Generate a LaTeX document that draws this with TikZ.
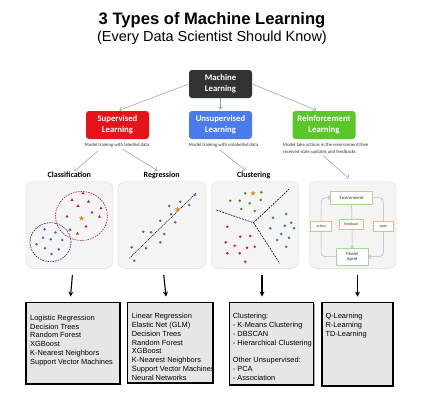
\documentclass[tikz,border=0pt]{standalone}
\usepackage{fontspec}
\setmainfont{Liberation Sans}
\newfontfamily\calfont{Carlito}
\usetikzlibrary{arrows.meta,shapes.geometric,shadows}
\definecolor{mldark}{HTML}{333333}
\definecolor{supred}{HTML}{E5141B}
\definecolor{unsblue}{HTML}{4A7BEA}
\definecolor{reigreen}{HTML}{5BC62A}
\definecolor{arrgray}{HTML}{9A9A9A}
\definecolor{panelfill}{HTML}{F4F4F4}
\definecolor{panelline}{HTML}{DCDCDC}
\definecolor{boxfill}{HTML}{E6E6E6}
\definecolor{ptblue}{HTML}{4466CC}
\definecolor{ptred}{HTML}{CC2222}
\definecolor{ptgreen}{HTML}{4A8A2A}
\definecolor{trired}{HTML}{A82233}
\definecolor{starorange}{HTML}{E08A30}
\definecolor{ellred}{HTML}{B02030}
\definecolor{ellblue}{HTML}{1E1E6E}
\definecolor{envgreen}{HTML}{A6DA8E}
\definecolor{actorange}{HTML}{F0B48C}
\definecolor{loopgray}{HTML}{B4B4B4}
\begin{document}
\begin{tikzpicture}[x=1pt,y=-1pt,
  catbox/.style={rectangle, rounded corners=3pt, minimum width=63pt, minimum height=28pt, inner sep=0pt, text=white, align=center, font=\calfont\bfseries\fontsize{8.7}{11}\selectfont},
  capt/.style={inner sep=0pt, text=mldark, font=\calfont\fontsize{4.8}{7}\selectfont},
  garr/.style={draw=arrgray, line width=0.5pt, -{Straight Barb[length=2.5pt,width=5pt]}},
  plabel/.style={inner sep=0pt, font=\calfont\bfseries\fontsize{8}{9}\selectfont},
  panel/.style={rectangle, rounded corners=7pt, draw=panelline, fill=panelfill, minimum height=86.6pt, inner sep=0pt},
  listbox/.style={rectangle, draw=black, line width=1.3pt, fill=boxfill, inner sep=0pt, drop shadow={shadow xshift=1.2pt, shadow yshift=-1.2pt, fill=black, opacity=0.35}},
  listtext/.style={anchor=north west, inner sep=0pt, align=left, font=\fontsize{7.4}{8.85}\selectfont},
  bigarr/.style={line width=1.1pt, -{Stealth[length=5pt,width=5pt]}},
  envbox/.style={rectangle, draw=envgreen, line width=0.7pt, fill=white, inner sep=0pt, align=center, text=mldark, font=\calfont\fontsize{4.6}{5.4}\selectfont},
  actbox/.style={rectangle, draw=actorange, line width=0.7pt, fill=white, inner sep=0pt, text=mldark, font=\calfont\fontsize{3.8}{4.5}\selectfont},
  loopline/.style={draw=loopgray, line width=0.5pt, rounded corners=4pt},
  looparr/.style={loopline, -{Straight Barb[length=2pt,width=4pt]}},
  tri/.style={regular polygon, regular polygon sides=3, fill=trired, minimum size=3.6pt, inner sep=0pt},
  starn/.style={star, star points=5, star point ratio=2.3, fill=starorange, minimum size=5.5pt, inner sep=0pt}
]
\useasboundingbox (0,0) rectangle (424,400);
\fill[white] (0,0) rectangle (424,400);

% titles
\node[inner sep=0pt, font=\bfseries\fontsize{16.6}{20}\selectfont] (title) at (212,20) {3 Types of Machine Learning};
\node[inner sep=0pt, font=\fontsize{14.5}{17}\selectfont] (subtitle) at (212,37.5) {(Every Data Scientist Should Know)};

% category boxes
\node[catbox, fill=mldark] (ml) at (220.5,84) {Machine\\Learning};
\node[catbox, fill=supred] (sup) at (117.5,125) {Supervised\\Learning};
\node[catbox, fill=unsblue] (uns) at (220.5,125) {Unsupervised\\Learning};
\node[catbox, fill=reigreen] (rei) at (324,125) {Reinforcement\\Learning};

\draw[garr, shorten <=1pt, shorten >=2pt] (ml.west) -- (sup.north);
\draw[garr, shorten >=1.5pt] (ml.south) -- (uns.north);
\draw[garr, shorten <=1pt, shorten >=2pt] (ml.east) -- ([xshift=-6pt]rei.north);

% captions
\node[capt] (supcap) at (117,145.3) {Model training with labelled data};
\node[capt] (unscap) at (223.5,145) {Model training with unlabelled data};
\node[capt, anchor=north west, align=left] (reicap) at (282.7,142.8) {Model take actions in the environment then\\received state updates and feedbacks};

% panel labels
\node[plabel] (clslbl) at (69.3,175) {Classification};
\node[plabel] (reglbl) at (161.7,175) {Regression};
\node[plabel] (clulbl) at (253.7,175) {Clustering};

% panels
\node[panel, minimum width=87pt] (p1) at (69.5,225) {};
\node[panel, minimum width=88pt] (p2) at (162,225) {};
\node[panel, minimum width=88pt] (p3) at (255,225) {};
\node[panel, minimum width=87pt] (p4) at (352.5,225) {};

\draw[garr, shorten <=5pt, shorten >=1.5pt] ([xshift=-15pt]supcap.south) -- ([xshift=4pt]clslbl.north);
\draw[garr, shorten <=3pt, shorten >=1.5pt] ([xshift=3pt]supcap.south) -- ([xshift=-3pt]reglbl.north);
\draw[garr, shorten <=4pt, shorten >=1.5pt] ([xshift=-7pt]unscap.south) -- ([xshift=-7pt]clulbl.north);
\draw[garr, shorten <=2pt, shorten >=5pt] ([xshift=-4pt]reicap.south) -- (p4.north);

% ---- classification content
\draw[ellred, line width=0.6pt, dash pattern=on 1.6pt off 1pt] (81.5,216) ellipse [x radius=26pt, y radius=24.5pt];
\draw[ellblue, line width=0.6pt, dash pattern=on 1.6pt off 1pt] (50.5,242.2) ellipse [x radius=20.5pt, y radius=19.5pt];
\foreach \px/\py in {83/193.3,72/200,88.5/201.7,78/206,101/208.3,92/212.5,67/216.5,99.5/216.8,86/226.5,70/229.8,77.5/233.8}
  \node[tri] at (\px,\py) {};
\foreach \px/\py in {44.5/229.3,55.5/232.5,43/237.7,50.7/239.2,62.2/240,36.5/244.3,45/248.3,58.7/249.3,51.5/254}
  \fill[ptblue] (\px,\py) circle[radius=1.4pt];
\node[starn] at (81.5,218.3) {};

% ---- regression content
\draw[black, line width=0.5pt, dash pattern=on 1.2pt off 0.8pt] (129.3,258.3) -- (196,193.3);
\foreach \px/\py in {194.7/195,180.3/201.7,189.3/205,169.3/206,171/214.3,175.3/222.3,160.3/220.7,143.3/231.7,151/232.3,164.3/234,160.3/242.3,131.7/247.3,146/248.3,134.3/260.7}
  \fill[ptblue] (\px,\py) circle[radius=1.4pt];
\node[starn] at (177.7,209.3) {};

% ---- clustering content
\draw[black, line width=0.6pt, dash pattern=on 2pt off 1pt] (216.3,210) -- (253.5,222.7) -- (289,189.3);
\draw[black, line width=0.6pt, dash pattern=on 2pt off 1pt] (253.5,222.7) -- (279.7,263.3);
\foreach \px/\py in {245.3/193.3,261.3/192.3,230.3/200.7,239.7/200.7,249.7/203.3,260.7/200,241.3/209,254.7/211}
  \fill[ptgreen] (\px,\py) circle[radius=1.4pt];
\foreach \px/\py in {273/217.7,286.3/214,270.3/228.3,284.7/225.7,291.3/222.7,294/228.3,281.3/234,289/237.7,277.3/240,286.3/246.7}
  \fill[ptblue] (\px,\py) circle[radius=1.4pt];
\foreach \px/\py in {227.3/226.7,240.3/236.7,250.3/236,225.7/242.3,234.7/245.7,247/247.7,254.7/246.7,227.3/253.3,239.7/253.3,245.3/261.7}
  \fill[ptred] (\px,\py) circle[radius=1.4pt];
\node[starn] at (253,193.3) {};

% ---- reinforcement content
\node[envbox, minimum width=42pt, minimum height=13.3pt] (env) at (351.7,197.7) {Environment};
\node[envbox, minimum width=32.3pt, minimum height=16.7pt] (agent) at (352.2,256.7) {Model\\Agent};
\coordinate (actc) at (321.2,226.3);
\coordinate (fbc) at (351.3,224.2);
\coordinate (stc) at (383.3,226.3);
\draw[looparr] (agent.west) -| (actc) |- (env.west);
\draw[looparr] (env.east) -| (stc) |- (agent.east);
\draw[looparr] (env.south) -- (agent.north);
\node[actbox, minimum width=21pt, minimum height=9.3pt] (action) at (actc) {action};
\node[actbox, minimum width=24pt, minimum height=9.7pt] (feedback) at (fbc) {feedback};
\node[actbox, minimum width=20pt, minimum height=9.3pt] (state) at (stc) {state};

% ---- list boxes
\node[listbox, minimum width=94pt, minimum height=81.3pt] (b1) at (73,343.35) {};
\node[listbox, minimum width=85.3pt, minimum height=80.3pt] (b2) at (170.35,342.85) {};
\node[listbox, minimum width=84.4pt, minimum height=82.3pt] (b3) at (271.5,343.85) {};
\node[listbox, minimum width=71pt, minimum height=83.3pt] (b4) at (357.5,344.35) {};

\node[listtext] (t1) at (30,314.7) {Logistic Regression\\Decision Trees\\Random Forest\\XGBoost\\K-Nearest Neighbors\\Support Vector Machines};
\node[listtext] (t2) at (131.7,313) {Linear Regression\\Elastic Net (GLM)\\Decision Trees\\Random Forest\\XGBoost\\K-Nearest Neighbors\\Support Vector Machines\\Neural Networks};
\node[listtext] (t3) at (232.7,313) {Clustering:\\- K-Means Clustering\\- DBSCAN\\- Hierarchical Clustering\\[8.85pt]Other Unsupervised:\\- PCA\\- Association};
\node[listtext] (t4) at (325.3,313) {Q-Learning\\R-Learning\\TD-Learning};

% ---- big arrows
\draw[bigarr, shorten <=6.5pt, shorten >=5.5pt] ([xshift=3.5pt]p1.south) -- ([xshift=-3pt]b1.north);
\draw[bigarr, shorten <=6.5pt, shorten >=5.5pt] ([xshift=1pt]p2.south) -- ([xshift=-3.7pt]b2.north);
\draw[bigarr, shorten <=6.5pt, shorten >=5.5pt] ([xshift=7pt]p3.south) -- ([xshift=-9.5pt]b3.north);
\draw[bigarr, shorten <=6.5pt, shorten >=5.5pt] ([xshift=5pt]p4.south) -- (b4.north);
\end{tikzpicture}
\end{document}
